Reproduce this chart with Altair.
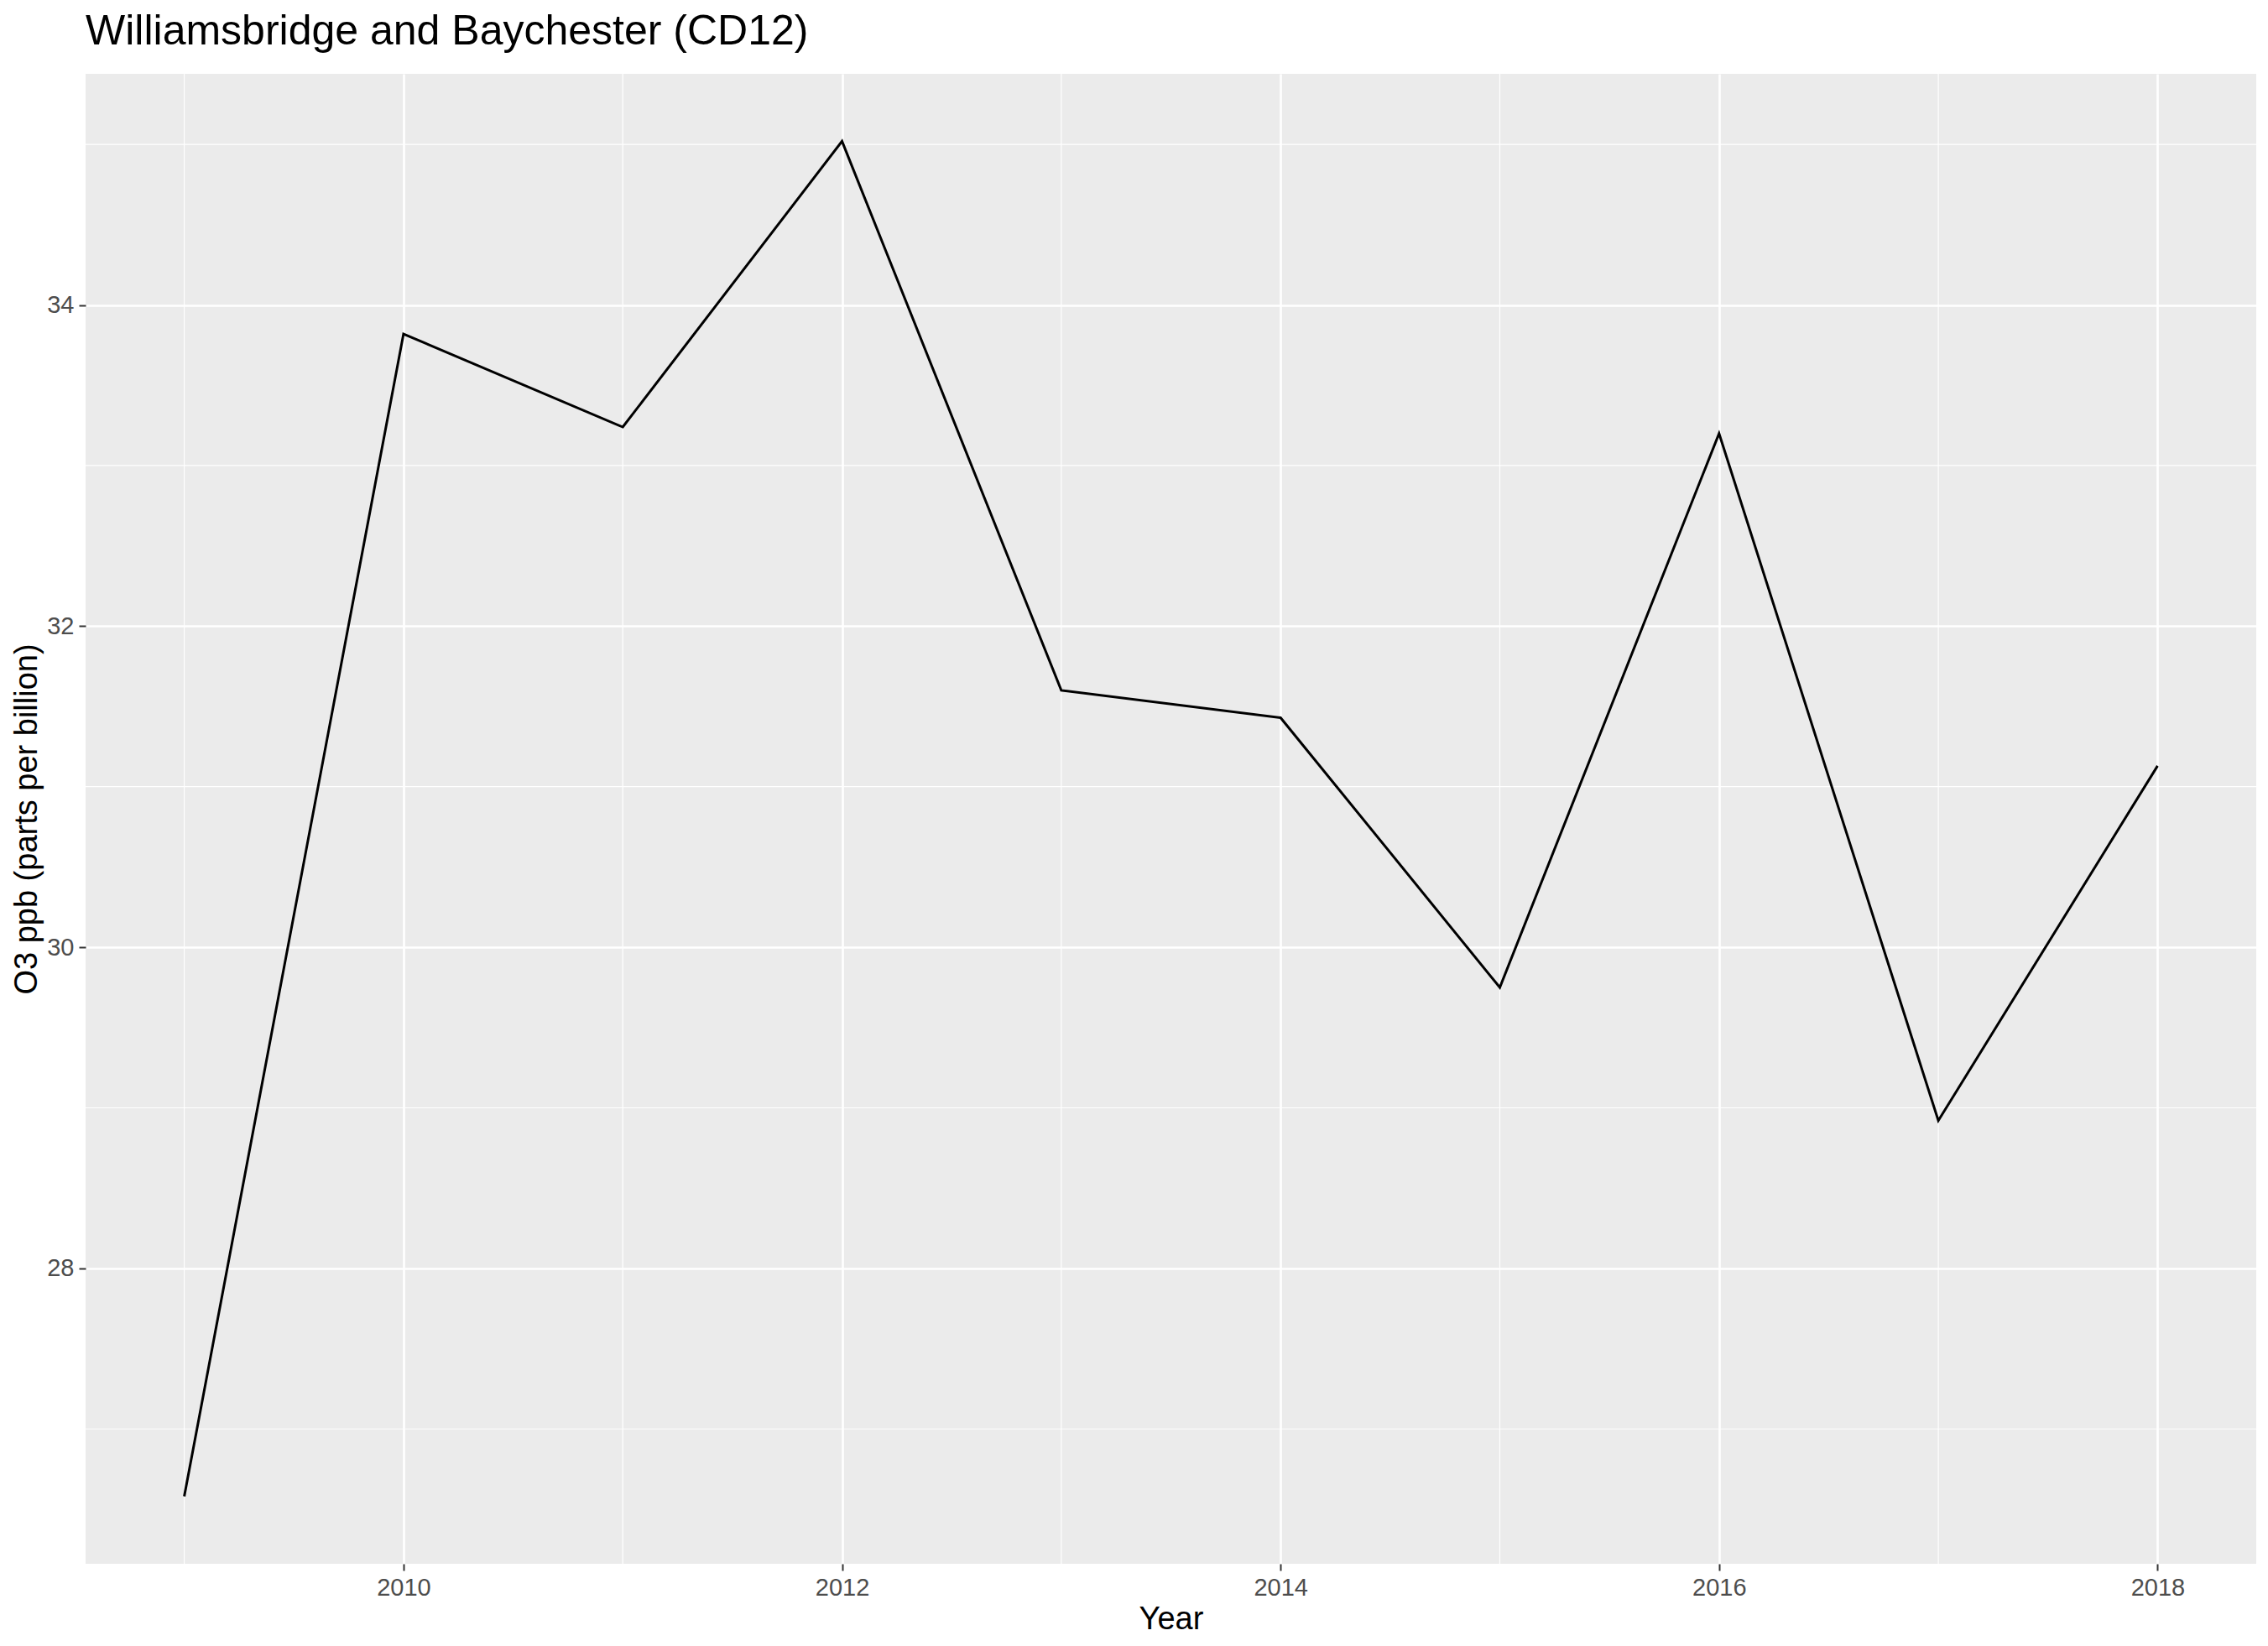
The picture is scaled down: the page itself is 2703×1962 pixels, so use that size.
import pandas as pd
import altair as alt

years = [2009, 2010, 2011, 2012, 2013, 2014, 2015, 2016, 2017, 2018]
o3 = [26.58, 33.82, 33.24, 35.02, 31.60, 31.43, 29.75, 33.20, 28.92, 31.13]
minor_x = [2009, 2011, 2013, 2015, 2017]
minor_y = [27, 29, 31, 33, 35]

df = pd.DataFrame({"Year": years, "O3": o3})
xs = alt.Scale(domain=[2008.55, 2018.45], nice=False, zero=False)
ys = alt.Scale(domain=[26.16, 35.44], nice=False, zero=False)

minx = alt.Chart(pd.DataFrame({"v": minor_x})).mark_rule(color="white", strokeWidth=1.2).encode(
    x=alt.X("v:Q", scale=xs))
miny = alt.Chart(pd.DataFrame({"v": minor_y})).mark_rule(color="white", strokeWidth=1.2).encode(
    y=alt.Y("v:Q", scale=ys))

line = alt.Chart(df).mark_line(color="black", strokeWidth=3).encode(
    x=alt.X("Year:Q", scale=xs, title="Year",
            axis=alt.Axis(values=[2010, 2012, 2014, 2016, 2018], format="d")),
    y=alt.Y("O3:Q", scale=ys, title="O3 ppb (parts per billion)",
            axis=alt.Axis(values=[28, 30, 32, 34], format="d")),
)

chart = alt.layer(minx, miny, line).properties(
    width=2687, height=1946,
    autosize=alt.AutoSizeParams(type="fit", contains="padding"),
    title=alt.Title("Williamsbridge and Baychester (CD12)", anchor="start", frame="group",
                    fontSize=50, font="Liberation Sans", fontWeight="normal",
                    color="black", offset=24),
    background="white",
).configure_view(fill="#EBEBEB", stroke=None).configure_axis(
    grid=True, gridColor="white", gridWidth=2.6, domain=False,
    tickColor="#333333", tickSize=8, tickWidth=2,
    labelFont="Liberation Sans", labelFontSize=29, labelColor="#4D4D4D",
    titleFont="Liberation Sans", titleFontSize=38, titleColor="black",
    titleFontWeight="normal", labelPadding=6,
)

chart.save("out.html", embed_options={"renderer": "svg", "actions": False})
